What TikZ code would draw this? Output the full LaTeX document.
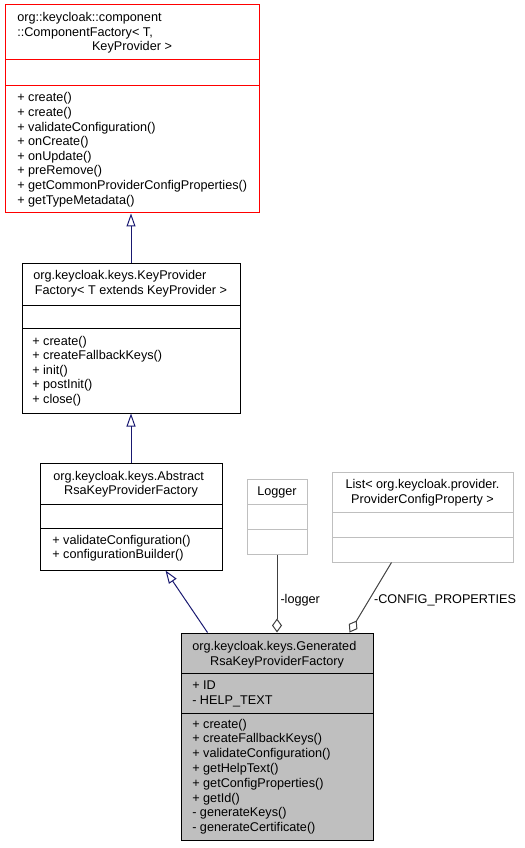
\documentclass[tikz,border=0pt]{standalone}
\usepackage{fontspec}
\setmainfont{Liberation Sans}
\usetikzlibrary{arrows.meta,positioning,calc,fit}
\definecolor{dxnavy}{HTML}{191970}
\definecolor{dxgrey}{HTML}{BFBFBF}
\definecolor{dxdark}{HTML}{404040}
\tikzset{box/.style={draw, inner sep=0pt, line width=0.75pt},
  member/.style={anchor=base west, inner sep=0pt},
  title/.style={anchor=base, inner sep=0pt},
  inherit/.style={dxnavy, line width=0.75pt,
    -{Triangle[open, length=9.75pt, width=6.75pt]}},
  aggr/.style={dxdark, line width=0.75pt,
    -{Diamond[open, length=10.5pt, width=7.5pt]}},
  role/.style={anchor=west, inner sep=0pt, text=black}}

\begin{document}
\begin{tikzpicture}[x=0.75pt, y=-0.75pt, font=\fontsize{9.5}{11}\selectfont]
\useasboundingbox (0,0) rectangle (524,848);
% ComponentFactory
\node[box, draw=red, fit={(5,5) (259,213)}] (cf) {};
\draw[red, line width=0.75pt] (5,60) -- (259,60) (5,86) -- (259,86);
\node[member] (cf-t1) at (17,22) {org::keycloak::component};
\node[member] (cf-t2) at (17,37) {::ComponentFactory< T,};
\node[title] (cf-t3) at (132,51) {KeyProvider >};
\foreach \t [count=\i] in {+ create(), + create(), + validateConfiguration(),
    + onCreate(), + onUpdate(), + preRemove(),
    + getCommonProviderConfigProperties(), + getTypeMetadata()}
  \node[member] (cf-m\i) at (17,87.4+14.6*\i) {\t};

% KeyProviderFactory
\node[box, fit={(22,264) (240,413)}] (kpf) {};
\draw[line width=0.75pt] (22,305) -- (240,305) (22,328) -- (240,328);
\node[member] (kpf-t1) at (33,280) {org.keycloak.keys.KeyProvider};
\node[title] (kpf-t2) at (131,295) {Factory< T extends KeyProvider >};
\foreach \t [count=\i] in {+ create(), + createFallbackKeys(), + init(),
    + postInit(), + close()}
  \node[member] (kpf-m\i) at (32,330.4+14.6*\i) {\t};

% AbstractRsaKeyProviderFactory
\node[box, fit={(40,463) (222,570)}] (abs) {};
\draw[line width=0.75pt] (40,504) -- (222,504) (40,528) -- (222,528);
\node[member] (abs-t1) at (53,480) {org.keycloak.keys.Abstract};
\node[title] (abs-t2) at (131,494) {RsaKeyProviderFactory};
\foreach \t [count=\i] in {+ validateConfiguration(), + configurationBuilder()}
  \node[member] (abs-m\i) at (52,529.4+14.6*\i) {\t};

% Logger
\node[box, draw=dxgrey, fit={(247,479) (307,554)}] (lg) {};
\draw[dxgrey, line width=0.75pt] (247,504) -- (307,504) (247,529) -- (307,529);
\node[title] (lg-t1) at (277,495) {Logger};

% List of ProviderConfigProperty
\node[box, draw=dxgrey, fit={(332,472) (513,562)}] (ls) {};
\draw[dxgrey, line width=0.75pt] (332,512) -- (513,512) (332,537) -- (513,537);
\node[title] (ls-t1) at (422.5,488) {List< org.keycloak.provider.};
\node[title] (ls-t2) at (422.5,503) {ProviderConfigProperty >};

% GeneratedRsaKeyProviderFactory
\node[box, fill=dxgrey, fit={(181,633) (373,840)}] (gen) {};
\draw[line width=0.75pt] (181,673) -- (373,673) (181,713) -- (373,713);
\node[member] (gen-t1) at (192,650) {org.keycloak.keys.Generated};
\node[title] (gen-t2) at (277,665) {RsaKeyProviderFactory};
\node[member] (gen-a1) at (192,689) {+ ID};
\node[member] (gen-a2) at (192,704) {- HELP\_TEXT};
\foreach \t [count=\i] in {+ create(), + createFallbackKeys(),
    + validateConfiguration(), + getHelpText(), + getConfigProperties(),
    + getId(), - generateKeys(), - generateCertificate()}
  \node[member] (gen-m\i) at (192,713.2+14.8*\i) {\t};

\draw[inherit] (kpf.north) -- (kpf.north |- cf.south);
\draw[inherit] (abs.north) -- (abs.north |- kpf.south);
\draw[inherit] ($(gen.north west)+(27,0)$) -- ($(abs.south west)+(126,0)$);
\draw[aggr] (lg.south) -- (lg.south |- gen.north)
  node[role, pos=0.58, xshift=2.25pt] (lbl-lg) {-logger};
\draw[aggr] ($(ls.south west)+(60,0)$) -- ($(gen.north west)+(169,0)$)
  node[role, pos=0.535, xshift=3.4pt] (lbl-ls) {-CONFIG\_PROPERTIES};
\end{tikzpicture}
\end{document}
